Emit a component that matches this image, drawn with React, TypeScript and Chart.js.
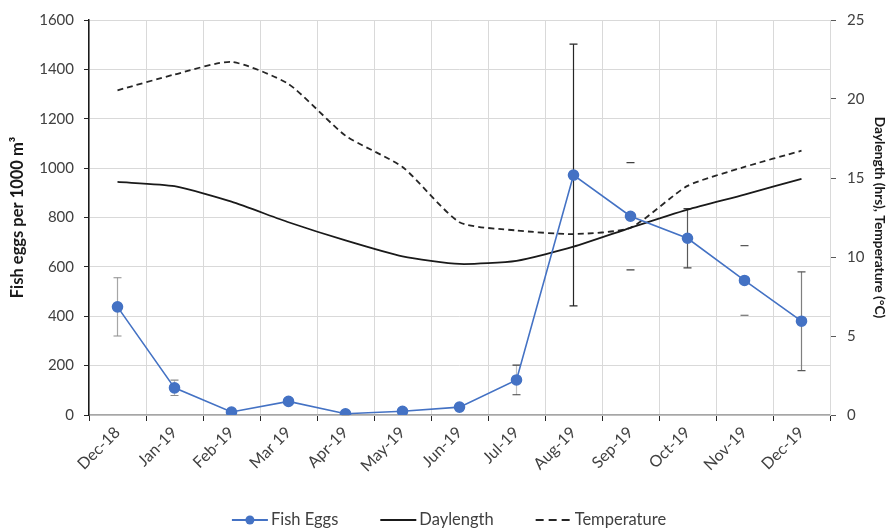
import React, { useEffect, useRef } from "react";
import { Chart, registerables } from "chart.js";

Chart.register(...registerables);

const categories = ["Dec-18", "Jan-19", "Feb-19", "Mar 19", "Apr-19", "May-19", "Jun-19", "Jul-19", "Aug-19", "Sep-19", "Oct-19", "Nov-19", "Dec-19"];
const fishEggs = [438, 110, 12, 55, 5, 15, 32, 142, 972, 805, 716, 545, 380];
const fishEggsErr = [118, 31, 8, 12, 5, 8, 10, 60, 530, 217, 120, 141, 200];
const daylength = [14.75, 14.48, 13.5, 12.2, 11.05, 10.04, 9.56, 9.76, 10.65, 11.85, 13.0, 13.95, 14.95];
const temperature = [20.55, 21.55, 22.35, 20.95, 17.68, 15.7, 12.2, 11.68, 11.45, 11.85, 14.5, 15.7, 16.73];

const leftTitle = "Fish eggs per 1000 m\u00B3";
const rightTitle = "Daylength (hrs), Temperature (\u00B0C)";

// styling for the error bar stems (some are not visible in the original)
const errStemColors = ["#a6a6a6", "#bfbfbf", "#bfbfbf", "#bfbfbf", "#bfbfbf", "#bfbfbf", "#bfbfbf", "#bfbfbf", "#262626", "rgba(0,0,0,0)", "#595959", "rgba(0,0,0,0)", "#7f7f7f"];
const errCapColors = ["#8c8c8c", "#8c8c8c", "#8c8c8c", "#8c8c8c", "#8c8c8c", "#8c8c8c", "#8c8c8c", "#404040", "#262626", "#404040", "#404040", "#595959", "#595959"];

const FONT = "Lato, 'Open Sans', sans-serif";
const BLUE = "#4472C4";

const errorBarPlugin = {
  id: "errorBars",
  beforeDatasetsDraw(chart: any) {
    const meta = chart.getDatasetMeta(0);
    const yScale = chart.scales.y;
    const ctx = chart.ctx;
    ctx.save();
    meta.data.forEach((pt: any, i: number) => {
      const v = fishEggs[i];
      const e = fishEggsErr[i];
      const x = pt.x;
      const yTop = yScale.getPixelForValue(v + e);
      const yBot = yScale.getPixelForValue(Math.max(0, v - e));
      ctx.lineWidth = 1.2;
      ctx.strokeStyle = errStemColors[i];
      ctx.beginPath();
      ctx.moveTo(x, yTop);
      ctx.lineTo(x, yBot);
      ctx.stroke();
      ctx.strokeStyle = errCapColors[i];
      ctx.beginPath();
      ctx.moveTo(x - 4, yTop);
      ctx.lineTo(x + 4, yTop);
      ctx.moveTo(x - 4, yBot);
      ctx.lineTo(x + 4, yBot);
      ctx.stroke();
    });
    ctx.restore();
  },
};

const legendPlugin = {
  id: "customLegend",
  afterDraw(chart: any) {
    const ctx = chart.ctx;
    const items = chart.data.datasets.map((d: any) => d);
    ctx.save();
    ctx.font = `16.5px ${FONT}`;
    const lineLen = 36;
    const gap = 3;
    const spacing = 42;
    const widths = items.map((d: any) => lineLen + gap + ctx.measureText(d.label).width);
    const total = widths.reduce((a: number, b: number) => a + b, 0) + spacing * (items.length - 1);
    let x = (chart.width - total) / 2 + 3;
    const y = 520;
    items.forEach((d: any, i: number) => {
      ctx.strokeStyle = d.borderColor;
      ctx.lineWidth = d.borderWidth + 0.4;
      ctx.setLineDash(d.borderDash ? [8, 5] : []);
      ctx.beginPath();
      ctx.moveTo(x, y);
      ctx.lineTo(x + lineLen, y);
      ctx.stroke();
      ctx.setLineDash([]);
      if (d.pointRadius > 0) {
        ctx.fillStyle = d.pointBackgroundColor;
        ctx.beginPath();
        ctx.arc(x + lineLen / 2, y, 4.5, 0, Math.PI * 2);
        ctx.fill();
      }
      ctx.fillStyle = "#404040";
      ctx.textBaseline = "middle";
      ctx.textAlign = "left";
      ctx.fillText(d.label, x + lineLen + gap, y);
      x += widths[i] + spacing;
    });
    ctx.restore();
  },
};

export default function App() {
  const canvasRef = useRef<HTMLCanvasElement | null>(null);

  useEffect(() => {
    document.body.style.margin = "0";
    const canvas = canvasRef.current;
    if (!canvas) return;
    const yTickFont = { family: FONT, size: 15 };
    const xTickFont = { family: FONT, size: 16 };
    const chart = new Chart(canvas, {
      type: "line",
      data: {
        labels: categories,
        datasets: [
          {
            label: "Fish Eggs",
            data: fishEggs,
            yAxisID: "y",
            borderColor: BLUE,
            backgroundColor: BLUE,
            pointBackgroundColor: BLUE,
            pointBorderColor: BLUE,
            borderWidth: 1.6,
            pointRadius: 5,
            tension: 0,
          },
          {
            label: "Daylength",
            data: daylength,
            yAxisID: "y1",
            borderColor: "#1a1a1a",
            backgroundColor: "#1a1a1a",
            borderWidth: 1.8,
            pointRadius: 0,
            tension: 0.2,
          },
          {
            label: "Temperature",
            data: temperature,
            yAxisID: "y1",
            borderColor: "#262626",
            backgroundColor: "#262626",
            borderWidth: 1.8,
            borderDash: [6, 4],
            pointRadius: 0,
            tension: 0.2,
          },
        ],
      },
      options: {
        responsive: false,
        animation: false,
        layout: { padding: { top: 13, bottom: 36, left: 0, right: 0 } },
        plugins: {
          legend: { display: false },
          tooltip: { enabled: false },
        },
        scales: {
          x: {
            type: "category",
            offset: true,
            grid: { offset: true, color: "#d9d9d9", tickColor: "#262626", tickLength: 6, lineWidth: 1 },
            border: { color: "#a6a6a6", width: 1.5 },
            ticks: { font: xTickFont, color: "#404040", minRotation: 45, maxRotation: 45, padding: 2, autoSkip: false },
            afterFit(scale: any) {
              scale.height = 78;
            },
          },
          y: {
            position: "left",
            min: 0,
            max: 1600,
            ticks: { stepSize: 200, font: yTickFont, color: "#404040", padding: 10, callback: (v: any) => String(v) },
            grid: { color: "#d9d9d9", tickColor: "#262626", tickLength: 5 },
            border: { color: "#1a1a1a", width: 1.5 },
            title: { display: true, text: leftTitle, font: { family: FONT, size: 16.5, weight: "bold" }, color: "#1a1a1a", padding: { top: 8, bottom: 0 } },
            afterFit(scale: any) {
              scale.width = 89;
            },
          },
          y1: {
            position: "right",
            min: 0,
            max: 25,
            ticks: { stepSize: 5, font: yTickFont, color: "#404040", padding: 11 },
            grid: { drawOnChartArea: false, tickColor: "#595959", tickLength: 6 },
            border: { color: "#d9d9d9", width: 1 },
            title: { display: true, text: rightTitle, font: { family: FONT, size: 13.7, weight: "bold" }, color: "#1a1a1a", padding: { top: 4, bottom: 0 } },
            afterFit(scale: any) {
              scale.width = 62;
            },
          },
        },
      },
      plugins: [errorBarPlugin, legendPlugin],
    } as any);
    return () => chart.destroy();
  }, []);

  return (
    <div style={{ width: 892, height: 529 }}>
      <canvas ref={canvasRef} width={892} height={529} style={{ display: "block" }} />
    </div>
  );
}
